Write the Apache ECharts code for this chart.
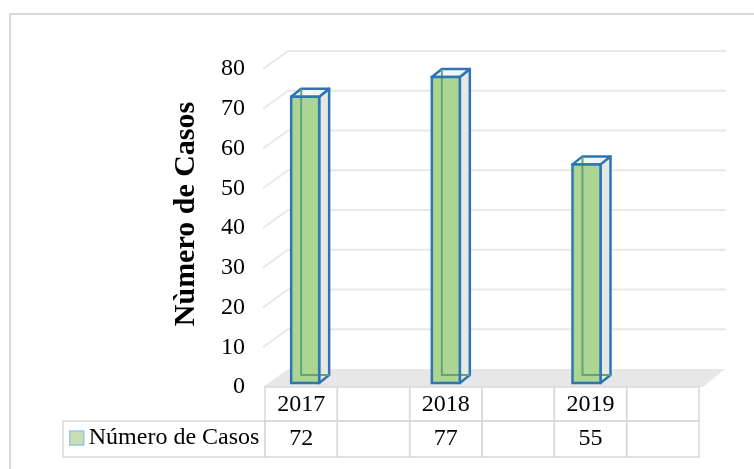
<!DOCTYPE html>
<html>
<head>
<meta charset="utf-8">
<script src="https://cdn.jsdelivr.net/npm/echarts@6/dist/echarts.min.js"></script>
<style>
  html, body { margin: 0; padding: 0; background: #fff; }
  #chart { width: 754px; height: 469px; }
</style>
</head>
<body>
<div id="chart"></div>
<script>
// datos
var categorias = ['2017', '', '2018', '', '2019', ''];
var casos = [72, null, 77, null, 55, null];
var ticksY = [0, 10, 20, 30, 40, 50, 60, 70, 80];
var nombreSerie = 'Número de Casos';
var tituloEje = 'Nùmero de Casos';

var fuente = '"Liberation Serif", "Times New Roman", serif';
var azul = '#2E75B6';
var gris = '#D9D9D9';

var chart = echarts.init(document.getElementById('chart'));

// barras 3D
function barra(params, api) {
  var i = api.value(0), v = api.value(1);
  var base = api.coord([i, 0]), tope = api.coord([i, v]);
  var cx = base[0] + 5, yb = base[1] - 4, yt = tope[1] - 4;
  var L = cx - 14, R = cx + 14, dx = 10, dy = -8;
  return {
    type: 'group',
    children: [
      { type: 'polygon', shape: { points: [[R, yb], [R + dx, yb + dy], [R + dx, yt + dy], [R, yt]] },
        style: { fill: '#E6E9E3', stroke: azul, lineWidth: 2.5, lineJoin: 'round' } },
      { type: 'polygon', shape: { points: [[L, yt], [L + dx, yt + dy], [R + dx, yt + dy], [R, yt]] },
        style: { fill: '#F4F6F2', stroke: azul, lineWidth: 2.5, lineJoin: 'round' } },
      { type: 'rect', shape: { x: L, y: yt, width: R - L, height: yb - yt },
        style: { fill: '#ADD592' } },
      { type: 'polyline', shape: { points: [[L + dx, yt + dy], [L + dx, yb + dy], [R + dx, yb + dy]] },
        style: { stroke: '#64A27A', lineWidth: 2, fill: null } },
      { type: 'rect', shape: { x: L, y: yt, width: R - L, height: yb - yt },
        style: { fill: null, stroke: azul, lineWidth: 2.5 } }
    ]
  };
}

// lineas de cuadricula en perspectiva
function cuadricula(params, api) {
  var cs = params.coordSys;
  var y = api.coord([0, api.value(1)])[1];
  return {
    type: 'polyline',
    shape: { points: [[cs.x - 2, y], [cs.x + 23, y - 18], [cs.x + cs.width + 39, y - 18]] },
    style: { stroke: '#E8E8E8', lineWidth: 2, fill: null }
  };
}

// piso
function piso(params, api) {
  var cs = params.coordSys;
  var y0 = api.coord([0, 0])[1];
  return {
    type: 'polygon',
    shape: { points: [[cs.x - 2, y0], [cs.x + cs.width + 16, y0], [cs.x + cs.width + 38, y0 - 18], [cs.x + 23, y0 - 18]] },
    style: { fill: '#E7E7E7' }
  };
}

// tabla de datos
function tabla(params, api) {
  var i = api.value(0);
  var c = api.coord([i, 1]);
  var bw = api.size([1, 0])[0];
  var cs = params.coordSys;
  var x0 = c[0] - bw / 2;
  var yTop = cs.y, yMid = cs.y + 34, yBot = cs.y + cs.height;
  var cat = categorias[i], val = casos[i] == null ? '' : String(casos[i]);
  return {
    type: 'group',
    children: [
      { type: 'rect', shape: { x: x0, y: yTop, width: bw, height: yMid - yTop },
        style: { fill: null, stroke: gris, lineWidth: 1.5 } },
      { type: 'rect', shape: { x: x0, y: yMid, width: bw, height: yBot - yMid },
        style: { fill: null, stroke: gris, lineWidth: 1.5 } },
      { type: 'text', style: { text: cat, x: c[0], y: (yTop + yMid) / 2 + 1, align: 'center', verticalAlign: 'middle',
        font: '24px ' + fuente, fill: '#000' } },
      { type: 'text', style: { text: val, x: c[0], y: (yMid + yBot) / 2, align: 'center', verticalAlign: 'middle',
        font: '24px ' + fuente, fill: '#000' } }
    ]
  };
}

var option = {
  animation: false,
  backgroundColor: '#fff',
  textStyle: { fontFamily: fuente },
  grid: [
    { left: 265, right: 67, top: 69, bottom: 82 },
    { left: 265, right: 55, top: 387, height: 70 }
  ],
  xAxis: [
    { type: 'category', data: categorias, gridIndex: 0, show: false },
    { type: 'category', data: categorias, gridIndex: 1, show: false }
  ],
  yAxis: [
    { type: 'value', gridIndex: 0, min: 0, max: 80, interval: 10,
      axisLine: { show: false }, axisTick: { show: false }, splitLine: { show: false },
      axisLabel: { fontSize: 24, color: '#000', fontFamily: fuente, margin: 20 } },
    { type: 'value', gridIndex: 1, min: 0, max: 1, show: false }
  ],
  legend: {
    selectedMode: false,
    left: 69, top: 426, padding: 0,
    itemWidth: 14, itemHeight: 14,
    icon: 'rect',
    textStyle: { fontSize: 24, color: '#000', fontFamily: fuente },
    data: [{ name: nombreSerie, itemStyle: { color: '#C6E0B4', borderColor: '#9DC3E6', borderWidth: 1.5 } }]
  },
  graphic: [
    { type: 'rect', shape: { x: 10, y: 14, width: 780, height: 480 },
      style: { fill: null, stroke: gris, lineWidth: 2 }, z: -1 },
    { type: 'rect', shape: { x: 63, y: 421, width: 202, height: 36 },
      style: { fill: null, stroke: gris, lineWidth: 1.5 } },
    { type: 'text', x: 186, y: 214, rotation: Math.PI / 2,
      style: { text: tituloEje, font: 'bold 30px ' + fuente, fill: '#000', align: 'center', verticalAlign: 'middle' } }
  ],
  series: [
    { type: 'custom', xAxisIndex: 0, yAxisIndex: 0, renderItem: piso, data: [[0, 0]], silent: true, z: 1 },
    { type: 'custom', xAxisIndex: 0, yAxisIndex: 0, renderItem: cuadricula,
      data: ticksY.filter(function (t) { return t > 0; }).map(function (t) { return [0, t]; }), silent: true, z: 1 },
    { type: 'custom', name: nombreSerie, xAxisIndex: 0, yAxisIndex: 0, renderItem: barra,
      data: casos.map(function (v, i) { return [i, v]; }).filter(function (d) { return d[1] != null; }),
      itemStyle: { color: '#C6E0B4' }, z: 3 },
    { type: 'custom', xAxisIndex: 1, yAxisIndex: 1, renderItem: tabla,
      data: categorias.map(function (c, i) { return [i, 0]; }), silent: true, z: 2 }
  ]
};

chart.setOption(option);
</script>
</body>
</html>
